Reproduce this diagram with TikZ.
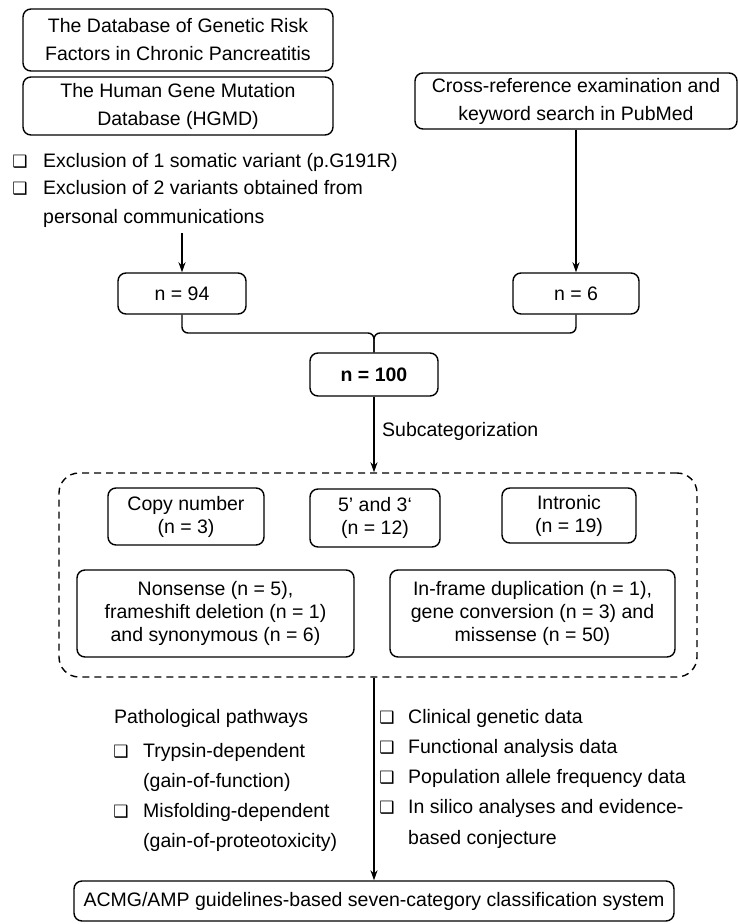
\documentclass[tikz,border=0pt]{standalone}
\usepackage{fontspec}
\setmainfont{Liberation Sans}
\newfontfamily\dvfont{DejaVu Sans}
\usetikzlibrary{arrows.meta}
\begin{document}
\begin{tikzpicture}[x=1pt,y=-1pt,
  every node/.style={font=\fontsize{19.5}{23}\selectfont},
  box/.style={draw, line width=1.4pt, rounded corners=8pt, align=center, inner sep=0pt},
  bigbox/.style={box, font=\fontsize{19.5}{28}\selectfont},
  grpbox/.style={draw, line width=1.4pt, dash pattern=on 7pt off 5pt, rounded corners=20pt, inner sep=0pt},
  line/.style={line width=1.4pt},
  arr/.style={line width=1.4pt, -{Stealth[length=10pt,width=7pt]}},
  txt/.style={anchor=west, inner sep=0pt, text height=14pt, text depth=4pt},
  chk/.style={inner sep=0pt, font=\dvfont\fontsize{17}{17}\selectfont}
]
\useasboundingbox (0,0) rectangle (738,924);

% top sources
\node[bigbox, minimum width=310, minimum height=62] (db1) at (178,40) {The Database of Genetic Risk\\Factors in Chronic Pancreatitis};
\node[bigbox, minimum width=310, minimum height=58] (db2) at (178,106) {The Human Gene Mutation\\Database (HGMD)};
\node[bigbox, minimum width=322, minimum height=56] (pub) at (576,101) {Cross-reference examination and\\keyword search in PubMed};

% exclusion bullets
\node[chk] (c1) at (20,162) {❑};
\node[txt] (e1) at (43,162) {Exclusion of 1 somatic variant (p.G191R)};
\node[chk] (c2) at (20,189) {❑};
\node[txt] (e2) at (43,189) {Exclusion of 2 variants obtained from};
\node[txt] (e3) at (43,218) {personal communications};
\coordinate (exend) at (182,233);

% counts
\node[box, minimum width=128, minimum height=41] (n94) at (182,293.5) {n = 94};
\node[box, minimum width=126, minimum height=41] (n6) at (576,293.5) {n = 6};
\node[box, minimum width=128, minimum height=43, font=\fontsize{19.5}{23}\selectfont\bfseries] (n100) at (374,374.5) {n = 100};

\draw[arr] (exend) -- (n94.north);
\draw[arr] (pub.south -| n6.north) -- (n6.north);
\coordinate (join) at (374,333);
\draw[line, rounded corners=6pt] (n94.south) |- (join) -- (n100.north);
\draw[line, rounded corners=6pt] (n6.south) |- (join) -- (n100.north);

% subcategories
\node[grpbox, minimum width=638, minimum height=204] (grp) at (378,575) {};
\draw[arr] (n100.south) -- (n100.south |- grp.north);
\node[txt] (sub) at (382,431) {Subcategorization};

\node[box, minimum width=156, minimum height=57] (cn) at (186,516.5) {Copy number\\(n = 3)};
\node[box, minimum width=130, minimum height=58] (utr) at (375,518) {5’ and 3‘\\(n = 12)};
\node[box, minimum width=134, minimum height=55] (intr) at (569,515.5) {Intronic\\(n = 19)};
\node[box, minimum width=277, minimum height=87] (non) at (215.5,613.5) {Nonsense (n = 5),\\frameshift deletion (n = 1)\\and synonymous (n = 6)};
\node[box, minimum width=285, minimum height=87] (inf) at (532.5,613.5) {In-frame duplication (n = 1),\\gene conversion (n = 3) and\\missense (n = 50)};

% final
\node[box, minimum width=600, minimum height=40] (fin) at (374,901) {ACMG/AMP guidelines-based seven-category classification system};
\draw[arr] (grp.south -| fin.north) -- (fin.north);

% left evidence
\node[txt] (pp) at (114,718) {Pathological pathways};
\node[chk] (c3) at (121,752) {❑};
\node[txt] (p1) at (143,752) {Trypsin-dependent};
\node[txt] (p2) at (143,782) {(gain-of-function)};
\node[chk] (c4) at (121,812) {❑};
\node[txt] (p3) at (143,812) {Misfolding-dependent};
\node[txt] (p4) at (143,842) {(gain-of-proteotoxicity)};

% right evidence
\node[chk] (c5) at (387,718) {❑};
\node[txt] (r1) at (408,718) {Clinical genetic data};
\node[chk] (c6) at (387,748) {❑};
\node[txt] (r2) at (408,748) {Functional analysis data};
\node[chk] (c7) at (387,778) {❑};
\node[txt] (r3) at (408,778) {Population allele frequency data};
\node[chk] (c8) at (387,808) {❑};
\node[txt] (r4) at (408,808) {In silico analyses and evidence-};
\node[txt] (r5) at (408,839) {based conjecture};
\end{tikzpicture}
\end{document}
